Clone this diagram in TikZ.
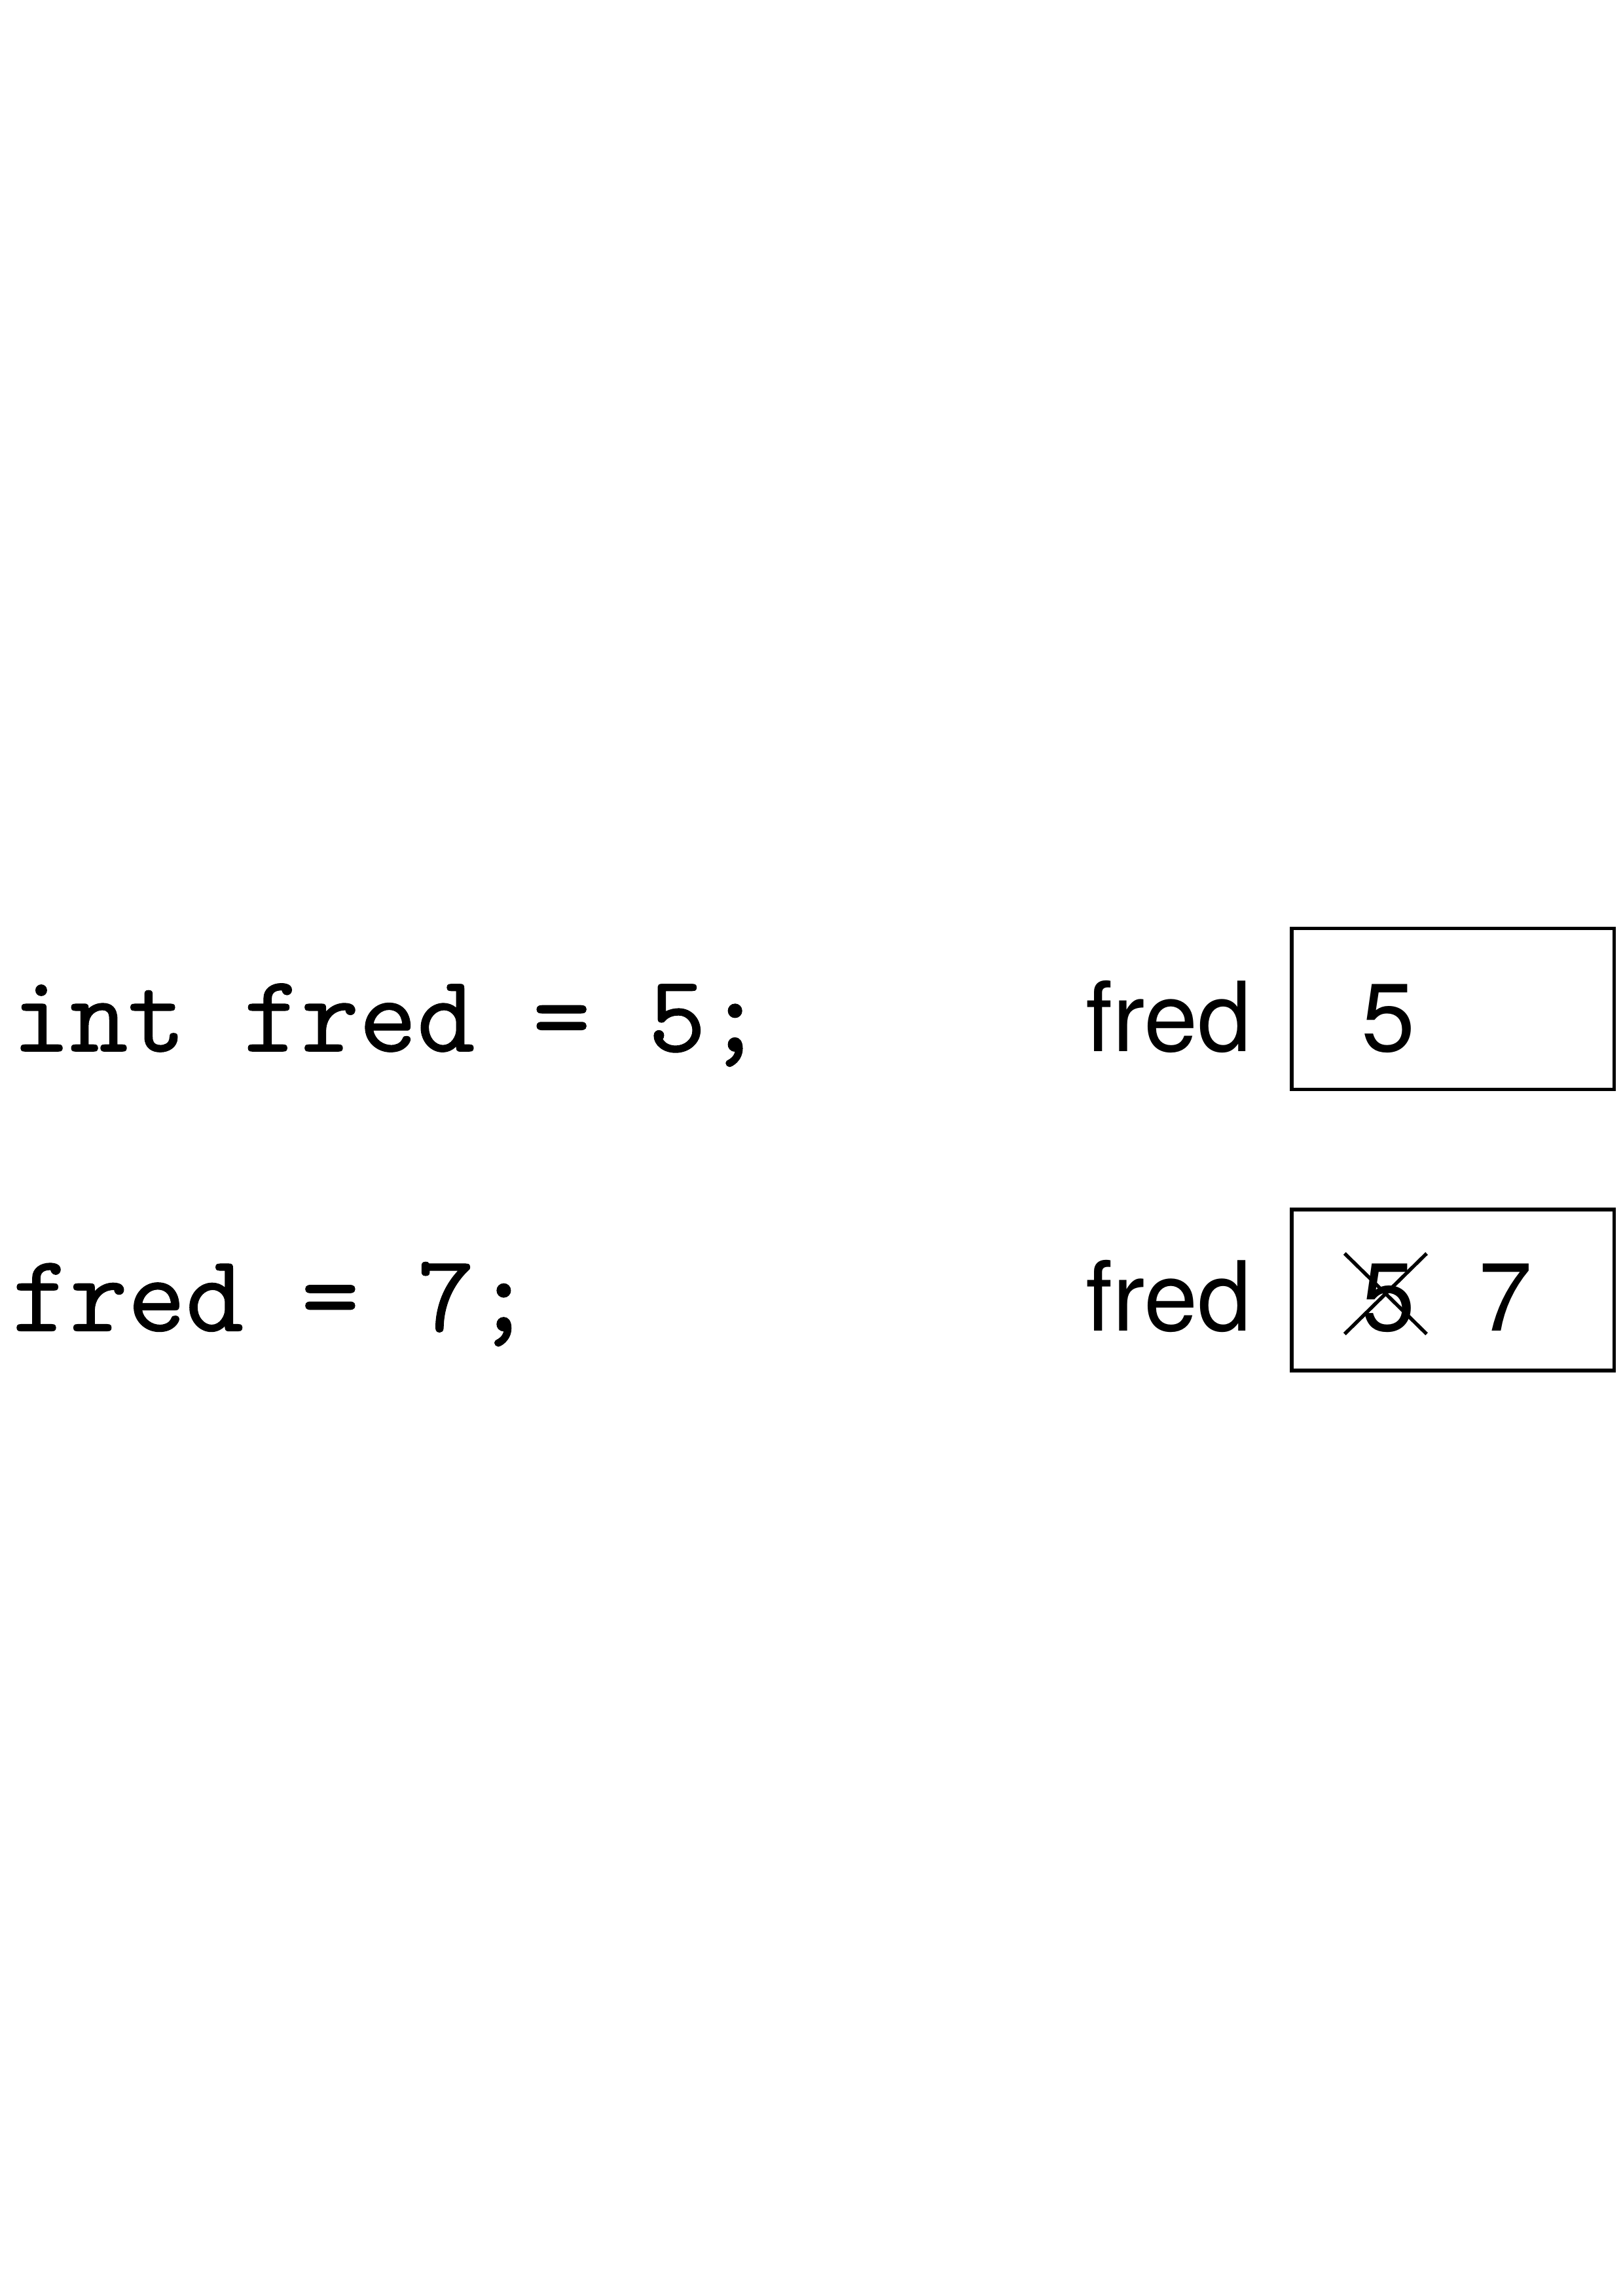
\documentclass[tikz,border=0pt]{standalone}
\usepackage{fontspec}
\newfontfamily\heros{TeX Gyre Heros}
\newfontfamily\codefont[FakeBold=0.6]{lmmono10-regular.otf}
\tikzset{
  code/.style={anchor=base west, inner sep=0pt, font=\codefont\fontsize{40.4}{48}\selectfont},
  varname/.style={anchor=base west, inner sep=0pt, font=\heros\fontsize{35.5}{42}\selectfont},
  cell/.style={draw, line width=1.4pt, minimum width=118.2pt, minimum height=59.1pt, inner sep=0pt},
  strike/.style={line width=1.3pt}
}
\begin{document}
\begin{tikzpicture}[x=0.5373pt,y=-0.5373pt]
    \useasboundingbox (0,0) rectangle (1108,1568);
    \node[code] (decl) at (8,718) {int fred = 5;};
    \node[code] (assign) at (8,909) {fred = 7;};
    \node[varname] (name1) at (741,718) {fred};
    \node[varname] (name2) at (741,909) {fred};
    \node[cell] (box1) at (992,689) {};
    \node[cell] (box2) at (992,881) {};
    \node[varname] (val1) at (929,718) {5};
    \node[varname] (old) at (929,909) {5};
    \node[varname] (new) at (1009,909) {7};
    \coordinate (x1) at (918,856);
    \coordinate (x2) at (974,911);
    \coordinate (x3) at (918,911);
    \coordinate (x4) at (974,856);
    \draw[strike] (x1) -- (x2);
    \draw[strike] (x3) -- (x4);
  \end{tikzpicture}
\end{document}
